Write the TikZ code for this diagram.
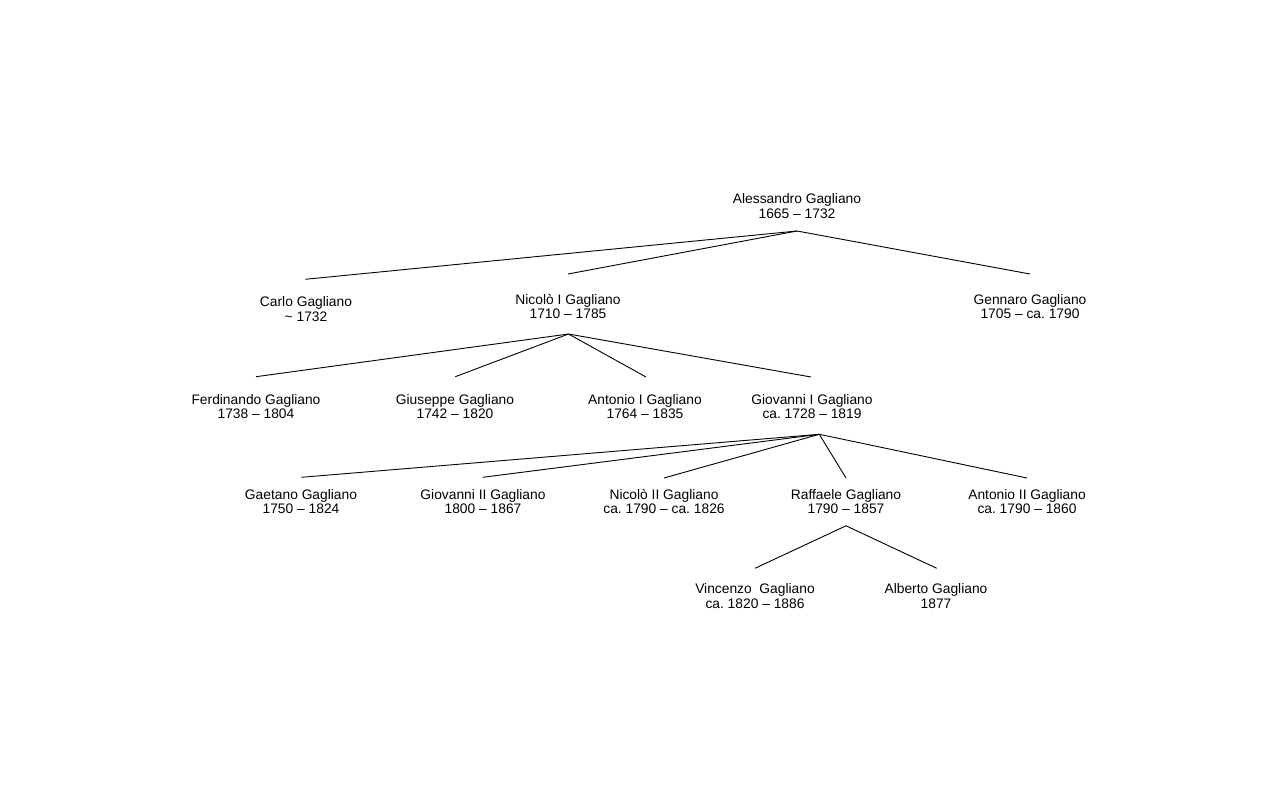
\documentclass[tikz,border=0pt]{standalone}
\usepackage{fontspec}
\setmainfont{Liberation Sans}
\usetikzlibrary{calc}
\begin{document}
\begin{tikzpicture}[x=1pt,y=-1pt,
  person/.style={align=center,inner sep=0pt,font=\fontsize{13.8}{14.6}\selectfont\frenchspacing,
    execute at begin node={\rule{0pt}{11pt}}},
  link/.style={line width=0.9pt,black}]
\useasboundingbox (0,0) rectangle (1280,800);
% nodes
\node[person] (ale) at (797,206.3) {Alessandro Gagliano\\1665 – 1732};
\node[person] (car) at (306,309.3) {Carlo Gagliano\\\textasciitilde\ 1732};
\node[person] (nic) at (568,306.6) {Nicolò I Gagliano\\1710 – 1785};
\node[person] (gen) at (1030,306.6) {Gennaro Gagliano\\1705 – ca. 1790};
\node[person] (fer) at (256,406.4) {Ferdinando Gagliano\\1738 – 1804};
\node[person] (giu) at (455,406.4) {Giuseppe Gagliano\\1742 – 1820};
\node[person] (antA) at (645,406.4) {Antonio I Gagliano\\1764 – 1835};
\node[person] (gioA) at (812,406.4) {Giovanni I Gagliano\\ca. 1728 – 1819};
\node[person] (gae) at (301,501.4) {Gaetano Gagliano\\1750 – 1824};
\node[person] (gioB) at (483,501.4) {Giovanni II Gagliano\\1800 – 1867};
\node[person] (nicB) at (664,501.4) {Nicolò II Gagliano\\ca. 1790 – ca. 1826};
\node[person] (raf) at (846,501.4) {Raffaele Gagliano\\1790 – 1857};
\node[person] (antB) at (1027,501.4) {Antonio II Gagliano\\ca. 1790 – 1860};
\node[person] (vin) at (755,595.8) {Vincenzo\ \ Gagliano\\ca. 1820 – 1886};
\node[person] (alb) at (936,595.8) {Alberto Gagliano\\1877};
% apex points
\coordinate (aleB) at ($(ale)+(0,24.7)$);
\coordinate (nicB0) at ($(nic)+(0.5,27.4)$);
\coordinate (gioAB) at ($(gioA)+(7.3,27.9)$);
\coordinate (rafB) at ($(raf)+(0,24.4)$);
% connectors
\draw[link] (aleB) -- ($(car)+(-0.7,-30)$);
\draw[link] (aleB) -- ($(nic)+(0,-32.6)$);
\draw[link] (aleB) -- ($(gen)+(0,-32.6)$);
\draw[link] (nicB0) -- ($(fer)+(0,-29.7)$);
\draw[link] (nicB0) -- ($(giu)+(0.3,-29.7)$);
\draw[link] (nicB0) -- ($(antA)+(1,-29.4)$);
\draw[link] (nicB0) -- ($(gioA)+(-1,-29.4)$);
\draw[link] (gioAB) -- ($(gae)+(0.3,-24.1)$);
\draw[link] (gioAB) -- ($(gioB)+(-0.3,-24.1)$);
\draw[link] (gioAB) -- ($(nicB)+(0,-23.4)$);
\draw[link] (gioAB) -- ($(raf)+(0,-23.4)$);
\draw[link] (gioAB) -- ($(antB)+(0,-23.4)$);
\draw[link] (rafB) -- ($(vin)+(0,-27.5)$);
\draw[link] (rafB) -- ($(alb)+(0.7,-27.5)$);
\end{tikzpicture}
\end{document}
